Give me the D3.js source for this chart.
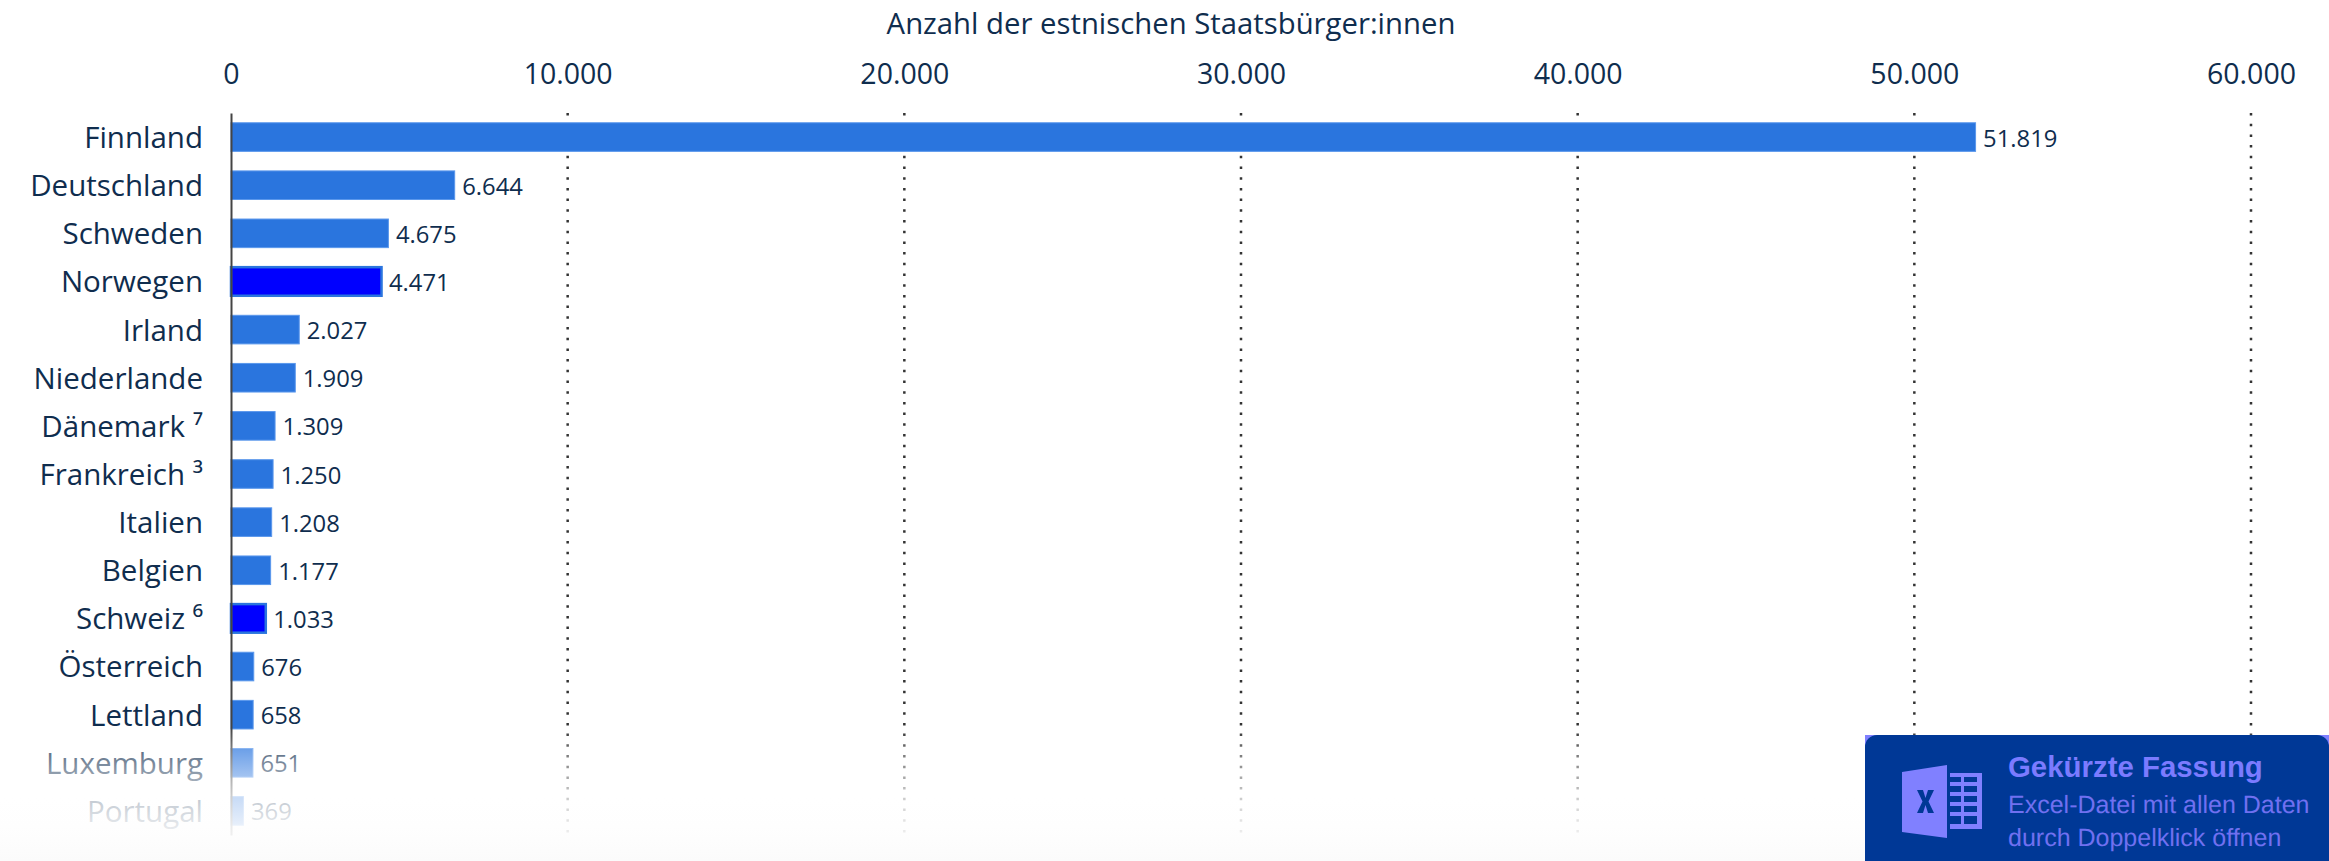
<!DOCTYPE html>
<html><head><meta charset="utf-8">
<script src="https://cdn.jsdelivr.net/npm/d3@7"></script>
<style>
html,body{margin:0;padding:0;background:#fff;overflow:hidden}
svg{display:block}
text{font-family:"Open Sans",sans-serif;fill:#0f2d4e}
</style></head><body>
<svg id="c" width="2329" height="861"></svg>
<script>
const categories = ["Finnland","Deutschland","Schweden","Norwegen","Irland","Niederlande","Dänemark ⁷","Frankreich ³","Italien","Belgien","Schweiz ⁶","Österreich","Lettland","Luxemburg","Portugal"];
const values = [51819,6644,4675,4471,2027,1909,1309,1250,1208,1177,1033,676,658,651,369];
const highlighted = ["Norwegen","Schweiz ⁶"];
const xTicks = [0,10000,20000,30000,40000,50000,60000];
const axisTitle = "Anzahl der estnischen Staatsbürger:innen";
const noticeTitle = "Gekürzte Fassung";
const noticeLines = ["Excel-Datei mit allen Daten","durch Doppelklick öffnen"];

const W=2329,H=861;
const svg=d3.select("#c");
const de=d3.formatLocale({decimal:",",thousands:".",grouping:[3],currency:["","€"]});
const fmt=de.format(",d");
const x=d3.scaleLinear().domain([0,60000]).range([231,2251]);
const y=d3.scaleBand().domain(categories).range([113,835]).paddingInner(0.406).paddingOuter(0.203);

const defs=svg.append("defs");
const g=defs.append("linearGradient").attr("id","fade").attr("x1",0).attr("x2",0).attr("y1",0).attr("y2",1);
[[0,"#fff",0],[0.158,"#fff",0.31],[0.376,"#fff",0.58],[0.52,"#fff",0.74],[0.73,"#fefefe",0.89],[1,"#fbfbfb",1]]
 .forEach(s=>g.append("stop").attr("offset",s[0]).attr("stop-color",s[1]).attr("stop-opacity",s[2]));

// grid
svg.append("g").selectAll("line").data(xTicks.slice(1)).join("line")
 .attr("x1",d=>x(d)).attr("x2",d=>x(d)).attr("y1",113).attr("y2",835)
 .attr("stroke","#333").attr("stroke-width",2.5).attr("stroke-dasharray","2.5 8.2");

// top axis
const ax=svg.append("g").attr("transform","translate(0,96)")
 .call(d3.axisTop(x).tickValues(xTicks).tickFormat(fmt).tickSize(0).tickPadding(0));
ax.select(".domain").remove();
ax.selectAll("text").attr("font-size",28.5).attr("dy",0).style("fill","#0f2d4e").style("font-family",'"Open Sans",sans-serif').attr("y",-12);

svg.append("text").attr("x",1171).attr("y",34).attr("text-anchor","middle").attr("font-size",29.3).text(axisTitle);

// bars
svg.append("g").selectAll("rect").data(values).join("rect")
 .attr("x",x(0)).attr("y",(d,i)=>y(categories[i])).attr("height",y.bandwidth())
 .attr("width",d=>x(d)-x(0))
 .attr("fill",(d,i)=>highlighted.includes(categories[i])?"#0000ff":"#2a75de")
 .attr("stroke",(d,i)=>highlighted.includes(categories[i])?"#2a75de":"#5a97ec")
 .attr("stroke-width",(d,i)=>highlighted.includes(categories[i])?2.5:1);

// values
svg.append("g").selectAll("text").data(values).join("text")
 .attr("x",d=>x(d)+7.5).attr("y",(d,i)=>y(categories[i])+y.bandwidth()/2+9.5)
 .attr("font-size",23.8).text(d=>fmt(d));

// left axis
const ay=svg.append("g").attr("transform","translate(231,0)")
 .call(d3.axisLeft(y).tickSize(0).tickPadding(28));
ay.select(".domain").attr("stroke","#444").attr("stroke-width",2);
ay.selectAll("text").attr("font-size",29.5).attr("y",1.5).style("fill","#0f2d4e").style("font-family",'"Open Sans",sans-serif');

// fade
svg.append("rect").attr("x",0).attr("y",728).attr("width",W).attr("height",133).attr("fill","url(#fade)");

// notice
const n=svg.append("g");
n.append("rect").attr("x",1865).attr("y",735).attr("width",464).attr("height",126).attr("fill","#8080ff");
n.append("path").attr("d","M1865 861V747a12 12 0 0 1 12-12H2317a12 12 0 0 1 12 12V861Z").attr("fill","#003896");
const ic=n.append("g").attr("fill","#8080ff");
ic.append("path").attr("d","M1902 772L1947 765V838L1902 832Z");
ic.append("path").attr("fill-rule","evenodd").attr("d","M1950 773H1982V829H1950V824H1961V816H1950V812H1961V806H1950V802H1961V796H1950V792H1961V786H1950V782H1961V777H1950ZM1964 777V782H1977V777ZM1964 786V792H1977V786ZM1964 796V802H1977V796ZM1964 806V812H1977V806ZM1964 816V824H1977V816Z");
n.append("path").attr("fill","#003896").attr("d","M1917 790H1923L1925.5 798L1928 790H1934L1928.5 801.5L1934 813H1928L1925.5 805L1923 813H1917L1922.5 801.5Z");
n.append("text").attr("x",2008).attr("y",777).attr("font-size",29.4).attr("font-weight",700).style("font-family","Liberation Sans").style("fill","#7b7bff").text(noticeTitle);
n.selectAll("text.l").data(noticeLines).join("text").attr("class","l").attr("x",2008).attr("y",(d,i)=>813+i*33).attr("font-size",25).style("text-rendering","geometricPrecision").style("font-family","Liberation Sans").style("fill","#7070f0").text(d=>d);
</script></body></html>
